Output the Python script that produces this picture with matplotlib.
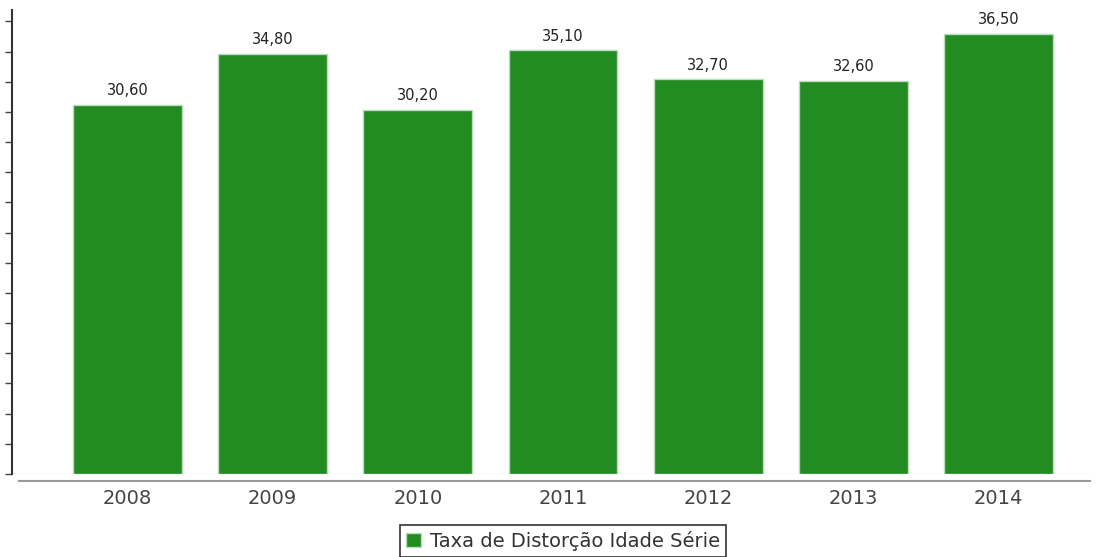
import numpy as np
import matplotlib.pyplot as plt
from matplotlib.lines import Line2D

# taxa de distorcao idade-serie por ano
anos = ["2008", "2009", "2010", "2011", "2012", "2013", "2014"]
taxa = [30.60, 34.80, 30.20, 35.10, 32.70, 32.60, 36.50]

W, H = 1096, 557
fig = plt.figure(figsize=(W / 100, H / 100), dpi=100)

# eixo em pixels: x 12..1090, y 10..474
ax = fig.add_axes([12 / W, (H - 474) / H, (1090 - 12) / W, (474 - 10) / H])

x = np.arange(len(anos))
bars = ax.bar(x, taxa, width=0.75, color="#228B22", edgecolor="#b9dcb9", linewidth=1.0,
              label="Taxa de Distorção Idade Série", zorder=3)

for xi, v in zip(x, taxa):
    ax.text(xi, v + 0.55, ("%.2f" % v).replace(".", ","), ha="center", va="bottom",
            fontsize=10.5, color="#222222")

ax.set_xlim(-0.795, 6.63)
ax.set_ylim(0, 38.45)
ax.set_yticks(np.arange(0, 38, 2.5))
ax.set_yticklabels([])
ax.set_xticks([])
ax.tick_params(axis="y", direction="out", length=5, width=1, color="#444444")

for s in ["top", "right", "bottom"]:
    ax.spines[s].set_visible(False)
ax.spines["left"].set_color("#333333")
ax.spines["left"].set_linewidth(1.5)

# linha clara na base e eixo x cinza logo abaixo
ax.axhline(0, color="#e6e6e6", lw=1, zorder=1)
fig.add_artist(Line2D([19 / W, 1090 / W], [(H - 481) / H] * 2, color="#999999", lw=1.5))

for xi, a in zip(x, anos):
    fig.text((12 + (xi + 0.795) / (6.63 + 0.795) * 1078) / W, (H - 499) / H, a,
             ha="center", va="center", fontsize=14, color="#444444")

leg = fig.legend(handles=[bars], loc="upper center", bbox_to_anchor=(563 / W, (H - 525) / H),
                 frameon=True, fancybox=False, fontsize=14, handlelength=0.75,
                 handleheight=0.75, handletextpad=0.45, borderpad=0.3, borderaxespad=0)
leg.get_frame().set_edgecolor("#000000")
leg.get_frame().set_linewidth(1.2)
for t in leg.get_texts():
    t.set_color("#333333")

fig.savefig("out.png", dpi=100)
